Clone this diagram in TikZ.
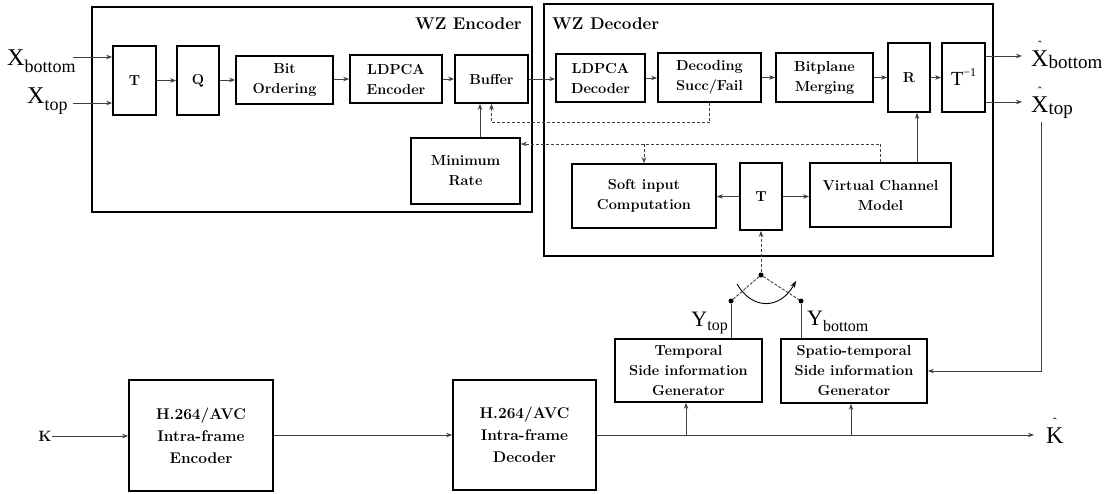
\documentclass[tikz,border=0pt]{standalone}
\usepackage{fontspec}
\newfontfamily\lfont{Liberation Serif}
\usetikzlibrary{arrows.meta,calc}
\newcommand{\boxfont}{\fontsize{14.5}{20}\selectfont\bfseries}
\newcommand{\bigboxfont}{\fontsize{15.5}{22}\selectfont\bfseries}
\newcommand{\hatted}[1]{\ooalign{#1\cr\hidewidth\raisebox{17pt}{\fontsize{12}{12}\selectfont\symbol{"02C6}}\hidewidth\cr}}
\begin{document}
\begin{tikzpicture}[x=1pt,y=-1pt,
  box/.style={draw, line width=1.7pt, inner sep=0pt, align=center, font=\boxfont},
  frame/.style={draw, line width=1.7pt, inner sep=0pt},
  conn/.style={line width=0.9pt, draw=black!75, -{Stealth[length=6pt,width=4.5pt]}},
  dsh/.style={conn, dash pattern=on 3pt off 2pt},
  plain/.style={line width=0.9pt, draw=black!75},
  dot/.style={circle, fill=black, inner sep=0pt, minimum size=5pt},
  lbl/.style={inner sep=0pt, font=\lfont\fontsize{24}{24}\selectfont}]
\useasboundingbox (0,0) rectangle (1114,493);

% outer frames
\node[frame, minimum width=440pt, minimum height=205pt] (encbox) at (312,109.5) {};
\node[frame, minimum width=449pt, minimum height=252pt] (decbox) at (768.5,130) {};
\node[anchor=base east, inner sep=0pt, font=\fontsize{17}{17}\selectfont\bfseries] (enctitle) at (522,29) {WZ Encoder};
\node[anchor=base west, inner sep=0pt, font=\fontsize{17}{17}\selectfont\bfseries] (dectitle) at (552,29) {WZ Decoder};

% encoder blocks
\node[box, minimum width=43pt, minimum height=69pt] (T1) at (134.5,80.5) {T};
\node[box, minimum width=42pt, minimum height=69pt] (Q) at (198,80.5) {Q};
\node[box, minimum width=97pt, minimum height=48pt] (Bit) at (284.5,80) {Bit\\Ordering};
\node[box, minimum width=92pt, minimum height=48pt] (LEnc) at (396,79) {LDPCA\\Encoder};
\node[box, minimum width=73pt, minimum height=48pt] (Buf) at (491.5,79) {Buffer};
\node[box, minimum width=109pt, minimum height=66pt] (MinR) at (465.5,171) {Minimum\\Rate};

% decoder blocks
\node[box, minimum width=89pt, minimum height=48pt] (LDec) at (600.5,78) {LDPCA\\Decoder};
\node[box, minimum width=103pt, minimum height=49pt] (SF) at (709.5,77.5) {Decoding\\Succ/Fail};
\node[box, minimum width=97pt, minimum height=49pt] (BPM) at (824.5,77.5) {Bitplane\\Merging};
\node[box, minimum width=42pt, minimum height=69pt] (R) at (909,77.5) {R};
\node[box, minimum width=43pt, minimum height=69pt, font=\lfont\fontsize{20}{20}\selectfont] (Tinv) at (963.5,77.5) {T\raisebox{0.45em}{\fontsize{12}{12}\selectfont −1}};
\node[box, minimum width=144pt, minimum height=64pt] (Soft) at (644,196) {Soft input\\Computation};
\node[box, minimum width=42pt, minimum height=67pt] (T2) at (761,196.5) {T};
\node[box, minimum width=141pt, minimum height=64pt] (VCM) at (880.5,195) {Virtual Channel\\Model};

% side information
\node[box, minimum width=147pt, minimum height=63pt] (Temp) at (688.5,370.5) {Temporal\\Side information\\Generator};
\node[box, minimum width=146pt, minimum height=64pt] (Spat) at (854,371) {Spatio-temporal\\Side information\\Generator};

% H.264
\node[box, minimum width=144pt, minimum height=111pt, font=\bigboxfont] (HEnc) at (201,435.5) {H.264/AVC\\Intra-frame\\Encoder};
\node[box, minimum width=143pt, minimum height=110pt, font=\bigboxfont] (HDec) at (524.5,435) {H.264/AVC\\Intra-frame\\Decoder};

% labels
\node[lbl, anchor=base west] (Xb) at (7,65) {X\raisebox{-7pt}{\fontsize{18}{18}\selectfont bottom}};
\node[lbl, anchor=base west] (Xt) at (27,103) {X\raisebox{-7pt}{\fontsize{18}{18}\selectfont top}};
\node[lbl, anchor=base west] (Xhb) at (1031,66) {\hatted{X}\raisebox{-2pt}{\fontsize{19}{19}\selectfont bottom}};
\node[lbl, anchor=base west] (Xht) at (1031,112) {\hatted{X}\raisebox{-2pt}{\fontsize{19}{19}\selectfont top}};
\node[lbl, anchor=base east, font=\lfont\fontsize{22}{22}\selectfont] (Yt) at (728,326) {Y\raisebox{-4pt}{\fontsize{16}{16}\selectfont top}};
\node[lbl, anchor=base west, font=\lfont\fontsize{22}{22}\selectfont] (Yb) at (807,325) {Y\raisebox{-6pt}{\fontsize{16}{16}\selectfont bottom}};
\node[inner sep=0pt, font=\fontsize{15}{15}\selectfont\bfseries] (K) at (45,436) {K};
\node[lbl, anchor=base west] (Kh) at (1046,443) {\hatted{K}};

% encoder connectors
\coordinate (xbs) at (73,57);
\coordinate (xts) at (73,103);
\draw[conn] (xbs) -- (xbs -| T1.west);
\draw[conn] (xts) -- (xts -| T1.west);
\draw[conn] (T1.east) -- (T1.east -| Q.west);
\draw[conn] (Q.east |- Bit.west) -- (Bit.west);
\draw[conn] (Bit.east |- LEnc.west) -- (LEnc.west);
\draw[conn] (LEnc.east) -- (Buf.west);
\draw[conn] ([xshift=14.5pt]MinR.north) -- ([xshift=14.5pt]MinR.north |- Buf.south);
\draw[conn] (Buf.east) -- (Buf.east -| LDec.west);

% decoder connectors
\draw[conn] (LDec.east) -- (LDec.east -| SF.west);
\draw[conn] (SF.east) -- (BPM.west);
\draw[conn] (BPM.east) -- (BPM.east -| R.west);
\draw[conn] (R.east) -- (Tinv.west);
\coordinate (Rin) at ([xshift=8pt]R.south);
\draw[conn] (Rin |- VCM.north) -- (Rin);
\draw[conn] (T2.west) -- (T2.west -| Soft.east);
\draw[conn] (T2.east) -- (T2.east -| VCM.west);

% dashed feedback
\draw[dsh] (SF.south) -- ++(0,20) -| (Buf.south);
\coordinate (fb) at ([yshift=27pt]MinR.east);
\draw[dsh] (VCM.north) |- (fb);
\draw[dsh] (Soft.north |- fb) -- (Soft.north);

% outputs
\coordinate (xbe) at (1022,56);
\coordinate (xte) at (1022,102);
\draw[conn] (xbe -| Tinv.east) -- (xbe);
\draw[conn] (xte -| Tinv.east) -- (xte);
\coordinate (fbx) at (1041,122);
\draw[conn] (fbx) |- (Spat.east);

% switch
\node[dot] (td) at (761,275) {};
\node[dot] (ld) at (731,301) {};
\node[dot] (rd) at (801,301) {};
\draw[dsh] (td) -- (T2.south);
\draw[plain, dash pattern=on 3pt off 1.5pt] (ld) -- (td) -- (rd);
\draw[plain] (ld) -- (ld |- Temp.north);
\draw[plain] (rd) -- (rd |- Spat.north);
\coordinate (cs) at (737,284);
\coordinate (ce) at (796,281);
\draw[line width=0.9pt, -{Stealth[length=7pt,width=5pt]}] (cs) .. controls (752,310) and (780,310) .. (ce);

% bottom chain
\coordinate (khe) at (1034,435);
\draw[conn] (K.east) -- (K.east -| HEnc.west);
\draw[conn] (HEnc.east |- HDec.west) -- (HDec.west);
\draw[conn] (HDec.east) -- (khe);
\draw[conn] ([xshift=-2.5pt]Temp.south |- khe) -- ([xshift=-2.5pt]Temp.south);
\draw[conn] ([xshift=-3pt]Spat.south |- khe) -- ([xshift=-3pt]Spat.south);
\end{tikzpicture}
\end{document}
